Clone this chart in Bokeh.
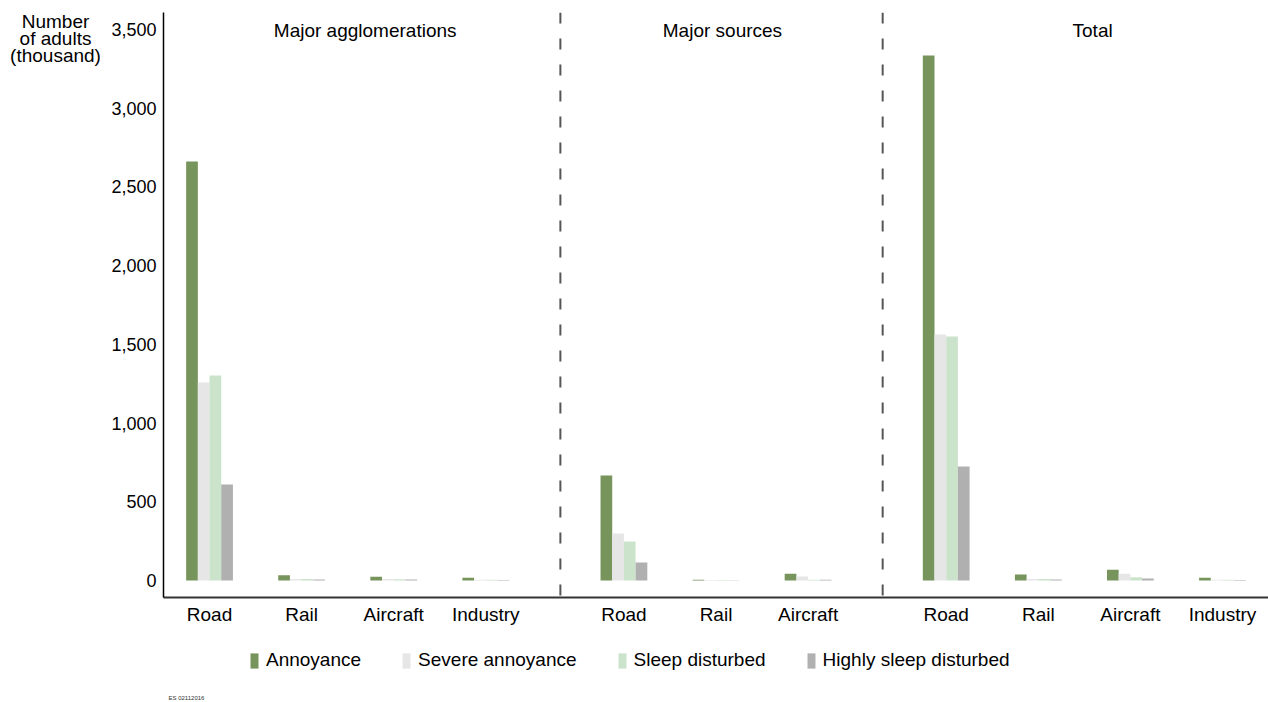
from bokeh.plotting import figure
from bokeh.layouts import column, row
from bokeh.models import (FactorRange, ColumnDataSource, Span, Label, Legend, LegendItem,
                          NumeralTickFormatter, FixedTicker, Range1d)
from bokeh.transform import dodge
from bokeh.embed import file_html
from bokeh.resources import INLINE

groups = ["Major agglomerations", "Major sources", "Total"]
sources = [["Road", "Rail", "Aircraft", "Industry"],
           ["Road", "Rail", "Aircraft"],
           ["Road", "Rail", "Aircraft", "Industry"]]
series = ["Annoyance", "Severe annoyance", "Sleep disturbed", "Highly sleep disturbed"]
annoyance = [2660, 34, 24, 17, 667, 4, 43, 3334, 38, 68, 17]
severe = [1257, 10, 10, 5, 298, 3, 25, 1562, 10, 43, 5]
sleep = [1302, 10, 8, 4, 248, 3, 5, 1549, 10, 21, 4]
highly = [610, 6, 6, 3, 114, 2, 4, 724, 6, 12, 3]
y_ticks = [0, 500, 1000, 1500, 2000, 2500, 3000, 3500]
y_title = ["Number", "of adults", "(thousand)"]
footnote = "ES 02112016"
colors = ["#77945c", "#e6e6e6", "#cce3cb", "#b0b0b0"]

FONT = "Liberation Sans"
W, H = 1268, 702
TOP_H = 640
TITLE_W = 100
FRAME_LEFT = 163

factors = [(g, s) for g, ss in zip(groups, sources) for s in ss]
source = ColumnDataSource(dict(x=factors, a=annoyance, s=severe, sl=sleep, h=highly))

# ---------------- main chart ----------------
x_range = FactorRange(*factors, factor_padding=0, group_padding=0.5, range_padding=0)
p = figure(x_range=x_range, y_range=Range1d(-108, 3607), width=W - TITLE_W, height=TOP_H,
           output_backend="svg", toolbar_location=None,
           min_border_left=FRAME_LEFT - TITLE_W, min_border_right=0, min_border_top=12,
           min_border_bottom=TOP_H - 597)
p.outline_line_color = None
p.xgrid.grid_line_color = None
p.ygrid.grid_line_color = None

bw = 0.127
for i, (col, color) in enumerate(zip(["a", "s", "sl", "h"], colors)):
    p.vbar(x=dodge("x", (i - 1.5) * bw, range=p.x_range), top=col, width=bw,
           source=source, fill_color=color, line_color=None)

p.yaxis.ticker = FixedTicker(ticks=y_ticks)
p.yaxis.formatter = NumeralTickFormatter(format="0,0")
p.yaxis.major_tick_line_color = None
p.yaxis.minor_tick_line_color = None
p.yaxis.axis_line_color = "black"
p.yaxis.axis_line_width = 1.5
p.yaxis.major_label_text_font = FONT
p.yaxis.major_label_text_font_size = "18px"
p.yaxis.major_label_text_color = "black"
p.yaxis.major_label_standoff = 1

p.xaxis.major_tick_line_color = None
p.xaxis.axis_line_color = "#333333"
p.xaxis.axis_line_width = 2
p.xaxis.major_label_text_font = FONT
p.xaxis.major_label_text_font_size = "19px"
p.xaxis.major_label_text_color = "black"
p.xaxis.major_label_standoff = 0
p.xaxis.group_text_font_size = "1px"
p.xaxis.group_text_color = None
p.xaxis.separator_line_color = None

for loc in [4.31, 7.81]:
    p.add_layout(Span(location=loc, dimension="height", line_color="#555555",
                      line_width=2, line_dash="11 15"))

for txt, xpos in zip(groups, [2.19, 6.07, 10.09]):
    p.add_layout(Label(x=xpos, y=3493, text=txt, text_align="center", text_baseline="middle",
                       text_font=FONT, text_font_size="19px", text_color="black"))

# ---------------- y title panel ----------------
tf = figure(width=TITLE_W, height=TOP_H, x_range=Range1d(0, TITLE_W), y_range=Range1d(TOP_H, 0),
            output_backend="svg", toolbar_location=None, min_border=0,
            x_axis_type=None, y_axis_type=None)
tf.outline_line_color = None
for txt, ypos in zip(y_title, [9.5, 28, 47]):
    tf.add_layout(Label(x=55, y=ypos, text=txt, text_align="center", text_baseline="middle",
                        text_font=FONT, text_font_size="19px", text_color="black"))

# ---------------- legend panel ----------------
LH = H - TOP_H
lf = figure(width=W, height=LH, x_range=Range1d(0, W), y_range=Range1d(LH, 0),
            output_backend="svg", toolbar_location=None, min_border=0,
            x_axis_type=None, y_axis_type=None)
lf.outline_line_color = None
leg_renderers = [lf.vbar(x=[0], top=[0], width=0, fill_color=c, line_color=None) for c in colors]
legend = Legend(items=[LegendItem(label=n, renderers=[r]) for n, r in zip(series, leg_renderers)],
                orientation="horizontal", location=(249, 31), spacing=40, label_standoff=7,
                glyph_width=10, glyph_height=19, border_line_color=None, background_fill_alpha=0,
                label_text_font=FONT, label_text_font_size="19px", label_text_color="black",
                padding=0, margin=0)
lf.add_layout(legend)
lf.add_layout(Label(x=168, y=57, text=footnote, text_align="left", text_baseline="middle",
                    text_font=FONT, text_font_size="6px", text_color="#333333"))

layout = column(row(tf, p), lf)
open("out.html", "w").write(file_html(layout, INLINE))
